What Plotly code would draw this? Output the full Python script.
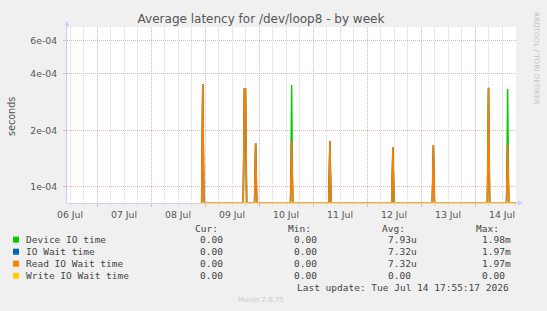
import numpy as np
import plotly.graph_objects as go

# ---------------- data ----------------
times = [
    "2026-07-08 22:30", "2026-07-08 23:00", "2026-07-08 23:30",
    "2026-07-09 17:00", "2026-07-09 17:30", "2026-07-09 18:00", "2026-07-09 18:30",
    "2026-07-09 22:00", "2026-07-09 22:30", "2026-07-09 23:00",
    "2026-07-10 14:00", "2026-07-10 14:30", "2026-07-10 15:00",
    "2026-07-11 07:00", "2026-07-11 07:30", "2026-07-11 08:00",
    "2026-07-12 11:00", "2026-07-12 11:30", "2026-07-12 12:00",
    "2026-07-13 05:00", "2026-07-13 05:30", "2026-07-13 06:00",
    "2026-07-14 05:30", "2026-07-14 06:00", "2026-07-14 06:30",
    "2026-07-14 14:00", "2026-07-14 14:30", "2026-07-14 15:00",
    "2026-07-14 18:00",
]
device_io = [0, 3.50e-4, 0,
             0, 3.30e-4, 3.30e-4, 0,
             0, 1.70e-4, 0,
             0, 3.48e-4, 0,
             0, 1.74e-4, 0,
             0, 1.62e-4, 0,
             0, 1.66e-4, 0,
             0, 3.35e-4, 0,
             0, 3.31e-4, 0,
             0]
io_wait = [0, 3.52e-4, 0,
           0, 3.31e-4, 3.31e-4, 0,
           0, 1.71e-4, 0,
           0, 1.76e-4, 0,
           0, 1.75e-4, 0,
           0, 1.63e-4, 0,
           0, 1.67e-4, 0,
           0, 3.36e-4, 0,
           0, 1.68e-4, 0,
           0]
read_io_wait = list(io_wait)
write_io_wait = [0] * len(times)

series_names = ["Device IO time", "IO Wait time", "Read IO Wait time", "Write IO Wait time"]
series_values = [device_io, io_wait, read_io_wait, write_io_wait]
series_colors = ["#00CC00", "#0066B3", "#FF8000", "#FFCC00"]
series_widths = [1.4, 1.4, 1.6, 1.0]

cur = ["0.00", "0.00", "0.00", "0.00"]
mins = ["0.00", "0.00", "0.00", "0.00"]
avgs = ["7.93u", "7.32u", "7.32u", "0.00"]
maxs = ["1.98m", "1.97m", "1.97m", "0.00"]

y_tickvals = [1e-4, 2e-4, 4e-4, 6e-4]
y_ticktext = ["1e-04", "2e-04", "4e-04", "6e-04"]
y_minorvals = [9e-5, 3e-4, 5e-4, 7e-4]

x_range = ["2026-07-06 10:40", "2026-07-14 18:13"]
y_range = [-4.085, -3.151]

# ---------------- layout geometry ----------------
W, H = 547, 311
L, R, T, B = 67, 516, 27, 203


def px(x):
    return (x - L) / (R - L)


def py(y):
    return (B - y) / (B - T)


floor = 10 ** (y_range[0] + 0.001)

fig = go.Figure()
for name, vals, col, lw in zip(series_names, series_values, series_colors, series_widths):
    v = np.array(vals, dtype=float)
    v = np.where(v > 0, v, floor)  # zero is drawn at the bottom edge, like rrdtool
    fig.add_trace(go.Scatter(x=times, y=v, mode="lines", name=name,
                             line=dict(color=col, width=lw), showlegend=False,
                             hoverinfo="skip"))

RED = "#EBB0B0"
GRAY = "#D6D6D6"
TXT = "#555555"
font_ax = dict(family="DejaVu Sans", size=9.3, color=TXT)

fig.update_layout(
    width=W, height=H,
    margin=dict(l=L, r=W - R, t=T, b=H - B, pad=0),
    paper_bgcolor="#F0F0F0", plot_bgcolor="#FFFFFF",
    title=dict(text="Average latency for /dev/loop8 - by week",
               x=261 / W, xanchor="center", xref="container",
               y=1 - 19 / H, yanchor="middle", yref="container",
               font=dict(family="DejaVu Sans", size=12, color=TXT)),
    xaxis=dict(type="date", range=x_range, dtick=86400000, tick0="2026-07-06",
               tickformat="%d %b", ticklabelmode="period",
               showgrid=True, gridcolor=RED, griddash="1px,1px", gridwidth=1,
               ticks="outside", ticklen=3, tickcolor=RED,
               minor=dict(dtick=21600000, showgrid=True, gridcolor=GRAY,
                          griddash="1px,1px", ticks="outside", ticklen=2, tickcolor=GRAY),
               showline=True, linecolor="#D8D0E8", linewidth=1,
               zeroline=False, tickfont=font_ax, fixedrange=True),
    yaxis=dict(type="log", range=y_range, tickmode="array",
               tickvals=y_tickvals, ticktext=y_ticktext,
               showgrid=True, gridcolor=RED, griddash="1px,1px",
               ticks="outside", ticklen=3, tickcolor=RED,
               ticklabelstandoff=4,
               showline=True, linecolor="#CCCCFF", linewidth=1,
               zeroline=False, tickfont=font_ax, fixedrange=True),
    yaxis2=dict(type="log", range=y_range, overlaying="y", anchor="x",
                tickmode="array", tickvals=y_minorvals, showticklabels=False,
                showgrid=True, gridcolor=GRAY, griddash="1px,1px",
                ticks="outside", ticklen=2, tickcolor=GRAY,
                zeroline=False, showline=False, fixedrange=True),
)

ann = []
# y axis title
ann.append(dict(text="seconds", x=px(11), y=py(117), xref="paper", yref="paper",
                showarrow=False, textangle=-90, xanchor="center", yanchor="middle",
                font=dict(family="DejaVu Sans", size=9.6, color=TXT)))
# rrdtool credit
ann.append(dict(text="RRDTOOL / TOBI OETIKER", x=px(537), y=py(58), xref="paper", yref="paper",
                showarrow=False, textangle=90, xanchor="center", yanchor="middle",
                font=dict(family="DejaVu Sans", size=7.2, color="#C4C4C4")))
# axis arrows
ann.append(dict(text="", x=px(523), y=0, xref="paper", yref="paper", showarrow=True,
                ax=-9, ay=0, arrowhead=2, arrowsize=1, arrowwidth=1, arrowcolor="#CCCCFF"))
ann.append(dict(text="", x=0, y=py(21), xref="paper", yref="paper", showarrow=True,
                ax=0, ay=9, arrowhead=2, arrowsize=1, arrowwidth=1, arrowcolor="#CCCCFF"))

mono = dict(family="DejaVu Sans Mono", size=9.5, color="#444444")


def text(s, x, y, anchor="left", font=mono):
    ann.append(dict(text=s, x=px(x), y=py(y), xref="paper", yref="paper", showarrow=False,
                    xanchor=anchor, yanchor="middle", borderpad=0, font=font))


# legend header
for hdr, hx in zip(["Cur:", "Min:", "Avg:", "Max:"], [194, 287, 381, 475]):
    text(hdr, hx, 228)

shapes = []
row_y = [239.7, 251.7, 263.7, 275.7]
for i, name in enumerate(series_names):
    yy = row_y[i]
    shapes.append(dict(type="rect", xref="paper", yref="paper",
                       x0=px(13), x1=px(19), y0=py(yy + 3), y1=py(yy - 3),
                       fillcolor=series_colors[i], line=dict(width=0)))
    text(name, 25, yy)
    text(cur[i], 199.3, yy)
    text(mins[i], 293.3, yy)
    text(avgs[i], 386.7, yy)
    text(maxs[i], 481, yy)

text("Last update: Tue Jul 14 17:55:17 2026", 509.5, 287.3, anchor="right")
text("Munin 2.0.75", 260.7, 300.3, anchor="center",
     font=dict(family="DejaVu Sans", size=7, color="#C8C8C8"))

fig.update_layout(annotations=ann, shapes=shapes)
fig.write_html("out.html")
